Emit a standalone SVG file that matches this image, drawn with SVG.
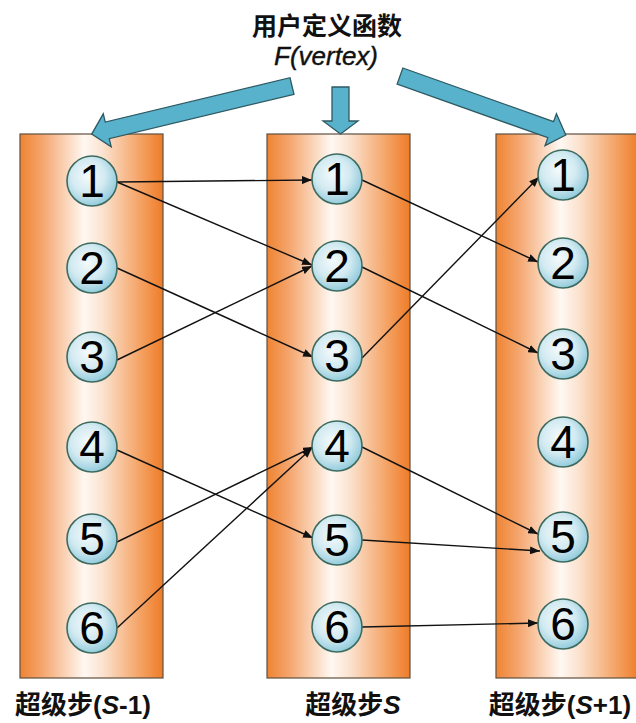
<svg xmlns="http://www.w3.org/2000/svg" width="636" height="723" viewBox="0 0 636 723">
<defs>
<linearGradient id="colg" x1="0" y1="0" x2="1" y2="0">
<stop offset="0" stop-color="#EF8433"/>
<stop offset="0.15" stop-color="#F4A46B"/>
<stop offset="0.45" stop-color="#FFF8F2"/>
<stop offset="0.58" stop-color="#FBE2CF"/>
<stop offset="0.85" stop-color="#F4A060"/>
<stop offset="1" stop-color="#EE7C28"/>
</linearGradient>
<radialGradient id="cg" cx="0.42" cy="0.4" r="0.62">
<stop offset="0" stop-color="#F4FAFC"/>
<stop offset="0.55" stop-color="#D2EAF1"/>
<stop offset="1" stop-color="#90CADB"/>
</radialGradient>
<marker id="ah" viewBox="0 0 10 8" refX="10" refY="4" markerWidth="10" markerHeight="8" markerUnits="userSpaceOnUse" orient="auto">
<path d="M0,0 L10,4 L0,8 z" fill="#111"/>
</marker>
<style>
.col{fill:url(#colg);stroke:#5e5040;stroke-width:1.2}
.nd{fill:url(#cg);stroke:#3e6b60;stroke-width:1.6}
.num{font-family:"Liberation Sans",Arial,sans-serif;font-size:46px;fill:#000;text-anchor:middle}
.cn{fill:none;stroke:#111;stroke-width:1.4;marker-end:url(#ah)}
.bl{fill:#58B2CC;stroke:#2E5962;stroke-width:1.3;stroke-linejoin:miter}
.lbl{font-family:"Liberation Sans","Noto Sans CJK SC",sans-serif;font-size:26px;font-weight:bold;fill:#111;text-anchor:middle}
.ttl{font-family:"Noto Sans CJK SC",sans-serif;font-size:25px;font-weight:bold;fill:#111;text-anchor:middle}
.fv{font-family:"Liberation Sans",Arial,sans-serif;font-size:26px;font-style:italic;fill:#111;text-anchor:middle;stroke:#111;stroke-width:0.4}
</style>
</defs>
<rect width="636" height="723" fill="#fff"/>
<g id="columns">
<rect id="col-left" class="col" x="20" y="134" width="143" height="544"/>
<rect id="col-mid" class="col" x="267" y="134" width="143" height="544"/>
<rect id="col-right" class="col" x="496" y="134" width="143" height="544"/>
</g>
<g id="title">
<text class="ttl" x="327" y="35">用户定义函数</text>
<text class="fv" x="326" y="65">F(vertex)</text>
</g>
<g id="blue-arrows">
<polygon id="arrow-left" class="bl" transform="translate(292,86) rotate(166.5)" points="0,-8.5 190,-8.5 190,-17 206,0 190,17 190,8.5 0,8.5"/>
<polygon id="arrow-mid" class="bl" points="332,87 349,87 349,121 358,121 340.5,134 323,121 332,121"/>
<polygon id="arrow-right" class="bl" transform="translate(400,76) rotate(19.6)" points="0,-8.5 160,-8.5 160,-17 176,0 160,17 160,8.5 0,8.5"/>
</g>
<g id="connectors">
<line class="cn" x1="117" y1="182" x2="312" y2="180"/>
<line class="cn" x1="117" y1="182" x2="312" y2="265"/>
<line class="cn" x1="117" y1="268" x2="313" y2="357"/>
<line class="cn" x1="117" y1="360" x2="312" y2="266"/>
<line class="cn" x1="117" y1="450" x2="313" y2="538"/>
<line class="cn" x1="117" y1="542" x2="313" y2="447"/>
<line class="cn" x1="117" y1="628" x2="312" y2="448"/>
<line class="cn" x1="362" y1="180" x2="538" y2="262"/>
<line class="cn" x1="362" y1="267" x2="538" y2="353"/>
<line class="cn" x1="362" y1="358" x2="539" y2="177"/>
<line class="cn" x1="362" y1="447" x2="538" y2="534"/>
<line class="cn" x1="362" y1="540" x2="540" y2="551"/>
<line class="cn" x1="362" y1="627" x2="538" y2="623"/>
</g>
<g id="L1"><circle class="nd" cx="92" cy="181" r="25"/><text class="num" x="92" y="197">1</text></g>
<g id="L2"><circle class="nd" cx="92" cy="268" r="25"/><text class="num" x="92" y="284">2</text></g>
<g id="L3"><circle class="nd" cx="92" cy="357" r="25"/><text class="num" x="92" y="373">3</text></g>
<g id="L4"><circle class="nd" cx="92" cy="447" r="25"/><text class="num" x="92" y="463">4</text></g>
<g id="L5"><circle class="nd" cx="92" cy="539" r="25"/><text class="num" x="92" y="555">5</text></g>
<g id="L6"><circle class="nd" cx="92" cy="628" r="25"/><text class="num" x="92" y="644">6</text></g>
<g id="M1"><circle class="nd" cx="337" cy="179" r="25"/><text class="num" x="337" y="195">1</text></g>
<g id="M2"><circle class="nd" cx="337" cy="266" r="25"/><text class="num" x="337" y="282">2</text></g>
<g id="M3"><circle class="nd" cx="337" cy="356" r="25"/><text class="num" x="337" y="372">3</text></g>
<g id="M4"><circle class="nd" cx="337" cy="446" r="25"/><text class="num" x="337" y="462">4</text></g>
<g id="M5"><circle class="nd" cx="337" cy="540" r="25"/><text class="num" x="337" y="556">5</text></g>
<g id="M6"><circle class="nd" cx="337" cy="627" r="25"/><text class="num" x="337" y="643">6</text></g>
<g id="R1"><circle class="nd" cx="563" cy="175" r="25"/><text class="num" x="563" y="191">1</text></g>
<g id="R2"><circle class="nd" cx="563" cy="263" r="25"/><text class="num" x="563" y="279">2</text></g>
<g id="R3"><circle class="nd" cx="563" cy="354" r="25"/><text class="num" x="563" y="370">3</text></g>
<g id="R4"><circle class="nd" cx="563" cy="442" r="25"/><text class="num" x="563" y="458">4</text></g>
<g id="R5"><circle class="nd" cx="563" cy="537" r="25"/><text class="num" x="563" y="553">5</text></g>
<g id="R6"><circle class="nd" cx="563" cy="624" r="25"/><text class="num" x="563" y="640">6</text></g>
<g id="labels">
<text class="lbl" x="83" y="714">超级步(<tspan font-style="italic">S</tspan>-1)</text>
<text class="lbl" x="353" y="714">超级步<tspan font-style="italic">S</tspan></text>
<text class="lbl" x="560" y="714">超级步(<tspan font-style="italic">S</tspan>+1)</text>
</g>
</svg>
